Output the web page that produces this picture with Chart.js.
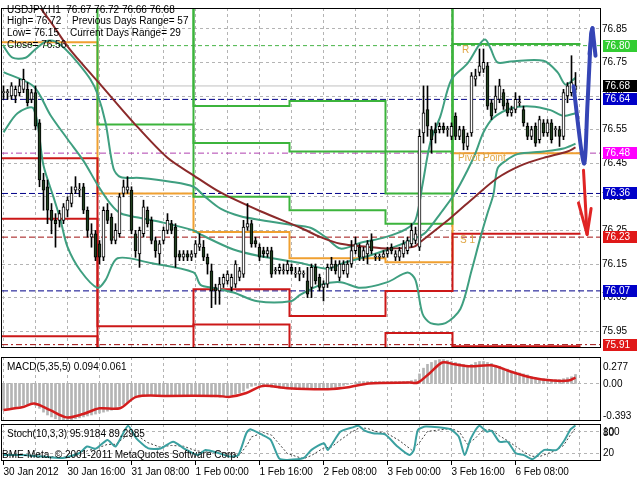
<!DOCTYPE html>
<html>
<head>
<meta charset="utf-8">
<script src="https://cdn.jsdelivr.net/npm/chart.js@4/dist/chart.umd.min.js"></script>
<style>
html,body{margin:0;padding:0;background:#fff;overflow:hidden;}
#wrap{position:relative;width:640px;height:480px;background:#fff;}
#wrap canvas{position:absolute;left:0;}
</style>
</head>
<body>
<div id="wrap">
<canvas id="cMain" width="640" height="356" style="top:0px;width:640px;height:356px"></canvas>
<canvas id="cMacd" width="640" height="66" style="top:356px;width:640px;height:66px"></canvas>
<canvas id="cStoch" width="640" height="57" style="top:423px;width:640px;height:57px"></canvas>
</div>
<script>
// ---------------- DATA ----------------
const timeLabels = ['30 Jan 2012','30 Jan 16:00','31 Jan 08:00','1 Feb 00:00','1 Feb 16:00','2 Feb 08:00','3 Feb 00:00','3 Feb 16:00','6 Feb 08:00'];
const timeLabelBars = [0,16,32,48,64,80,96,112,128];
const gridBars = [0,8,16,24,32,40,48,56,64,72,80,88,96,104,112,120,128,136,144];
const priceTicks = [75.95,76.05,76.15,76.25,76.35,76.45,76.55,76.65,76.75,76.85];

const opens = [76.66,76.66,76.65,76.65,76.66,76.67,76.67,76.64,76.66,76.57,
76.40,76.38,76.31,76.28,76.28,76.28,76.31,76.33,76.37,76.37,
76.38,76.31,76.23,76.24,76.21,76.17,76.31,76.29,76.22,76.24,
76.36,76.37,76.37,76.24,76.18,76.24,76.31,76.28,76.22,76.18,
76.22,76.25,76.27,76.26,76.18,76.17,76.18,76.17,76.18,76.20,
76.20,76.17,76.13,76.08,76.07,76.09,76.10,76.08,76.09,76.11,
76.12,76.26,76.27,76.22,76.20,76.19,76.18,76.19,76.13,76.13,
76.13,76.13,76.14,76.12,76.12,76.12,76.10,76.08,76.14,76.11,
76.08,76.09,76.14,76.15,76.11,76.13,76.12,76.15,76.19,76.20,
76.17,76.18,76.22,76.17,76.17,76.17,76.18,76.20,76.17,76.17,
76.18,76.19,76.21,76.22,76.20,76.54,76.61,76.55,76.55,76.55,
76.56,76.55,76.53,76.59,76.53,76.55,76.50,76.54,76.70,76.72,
76.73,76.74,76.63,76.61,76.64,76.66,76.63,76.60,76.61,76.63,
76.61,76.56,76.53,76.56,76.52,76.57,76.54,76.57,76.55,76.55,
76.53,76.65,76.66,76.67];
const highs = [76.68,76.67,76.69,76.68,76.70,76.73,76.69,76.67,76.68,76.58,
76.42,76.40,76.33,76.30,76.31,76.33,76.35,76.38,76.41,76.39,
76.39,76.32,76.27,76.25,76.22,76.32,76.33,76.30,76.27,76.36,
76.40,76.41,76.38,76.25,76.26,76.34,76.32,76.29,76.23,76.22,
76.26,76.30,76.28,76.27,76.19,76.19,76.19,76.19,76.22,76.24,
76.22,76.18,76.15,76.09,76.11,76.12,76.13,76.12,76.16,76.14,
76.28,76.33,76.28,76.23,76.21,76.20,76.20,76.20,76.14,76.15,
76.15,76.16,76.15,76.14,76.14,76.13,76.14,76.15,76.15,76.12,
76.10,76.15,76.17,76.16,76.16,76.16,76.16,76.22,76.23,76.21,
76.20,76.22,76.24,76.18,76.18,76.19,76.20,76.21,76.19,76.20,
76.22,76.23,76.27,76.26,76.55,76.68,76.68,76.56,76.57,76.57,
76.57,76.56,76.57,76.60,76.56,76.56,76.54,76.72,76.73,76.79,
76.79,76.75,76.64,76.68,76.70,76.67,76.64,76.62,76.66,76.65,
76.62,76.57,76.56,76.57,76.59,76.58,76.58,76.58,76.56,76.56,
76.67,76.69,76.77,76.72];
const lows = [76.64,76.64,76.64,76.63,76.65,76.66,76.62,76.63,76.55,76.38,
76.31,76.27,76.24,76.20,76.26,76.27,76.29,76.32,76.36,76.35,
76.30,76.23,76.20,76.16,76.15,76.16,76.27,76.21,76.21,76.23,
76.35,76.36,76.24,76.17,76.14,76.23,76.26,76.21,76.17,76.15,
76.21,76.24,76.24,76.14,76.16,76.16,76.16,76.16,76.17,76.19,
76.16,76.12,76.02,76.03,76.03,76.08,76.09,76.07,76.08,76.10,
76.11,76.25,76.20,76.20,76.16,76.17,76.17,76.11,76.12,76.12,
76.12,76.12,76.12,76.11,76.10,76.11,76.05,76.05,76.09,76.07,
76.04,76.08,76.13,76.12,76.10,76.12,76.11,76.14,76.18,76.16,
76.16,76.15,76.18,76.16,76.16,76.17,76.17,76.18,76.16,76.16,
76.17,76.18,76.20,76.21,76.19,76.51,76.53,76.48,76.51,76.54,
76.54,76.53,76.52,76.52,76.52,76.49,76.49,76.53,76.68,76.71,
76.72,76.61,76.58,76.60,76.63,76.61,76.59,76.59,76.60,76.62,
76.56,76.52,76.52,76.50,76.51,76.53,76.53,76.51,76.53,76.50,
76.52,76.63,76.65,76.66];
const closes = [76.66,76.66,76.68,76.67,76.68,76.70,76.63,76.66,76.56,76.40,
76.37,76.31,76.28,76.27,76.30,76.32,76.34,76.36,76.38,76.37,
76.31,76.25,76.24,76.17,76.17,76.31,76.28,76.22,76.25,76.35,
76.38,76.38,76.25,76.19,76.25,76.32,76.27,76.22,76.19,76.21,
76.25,76.28,76.25,76.17,76.17,76.18,76.17,76.18,76.21,76.21,
76.17,76.15,76.07,76.07,76.09,76.11,76.12,76.11,76.15,76.13,
76.26,76.27,76.21,76.21,76.17,76.18,76.19,76.12,76.13,76.14,
76.13,76.15,76.13,76.12,76.13,76.12,76.06,76.14,76.10,76.08,
76.09,76.14,76.15,76.13,76.15,76.15,76.15,76.19,76.21,76.17,
76.19,76.21,76.19,76.17,76.17,76.18,76.19,76.19,76.18,76.19,
76.21,76.22,76.25,76.24,76.53,76.60,76.56,76.52,76.54,76.56,
76.55,76.55,76.56,76.53,76.55,76.51,76.53,76.71,76.71,76.74,
76.75,76.62,76.59,76.65,76.68,76.62,76.60,76.61,76.64,76.63,
76.57,76.53,76.55,76.51,76.58,76.54,76.57,76.52,76.55,76.53,
76.66,76.68,76.69,76.68];

// Bollinger bands & slow MA as [bar, price]
const bbUpper = [[0,76.798],[2.25,76.764],[5.5,76.764],[7.5,76.784],[10.5,76.812],[13,76.812],[15.5,76.789],[18.5,76.750],[21.75,76.699],[23.5,76.656],[25.5,76.571],[27.5,76.434],[29.25,76.409],[34.25,76.406],[41.75,76.395],[47.5,76.380],[50.5,76.349],[54.25,76.315],[59.25,76.292],[64.25,76.281],[71.75,76.267],[76.75,76.258],[80.5,76.230],[84.25,76.196],[89.25,76.213],[95.5,76.230],[100.5,76.253],[103,76.281],[104.75,76.386],[106.75,76.514],[109.25,76.591],[112,76.699],[116,76.747],[119,76.804],[120.5,76.818],[121.75,76.792],[123.5,76.750],[126.75,76.753],[135,76.755],[138.5,76.721],[140.5,76.684],[143,76.704]];
const bbMiddle = [[0,76.721],[7.5,76.679],[11.75,76.593],[16,76.522],[20,76.457],[23.5,76.386],[26.75,76.329],[29.25,76.301],[34.25,76.287],[39.25,76.275],[47.5,76.250],[49.25,76.238],[57.5,76.193],[64.25,76.173],[74.25,76.153],[81,76.136],[85,76.153],[91,76.173],[96,76.193],[102.5,76.224],[105.5,76.244],[109.25,76.301],[113,76.363],[116,76.429],[118,76.480],[120,76.542],[122.5,76.585],[126.75,76.613],[131.75,76.619],[136.75,76.608],[140,76.591],[143,76.599]];
const bbLower = [[0,76.542],[3.5,76.599],[7.5,76.613],[10,76.443],[12.5,76.349],[14.25,76.281],[16,76.201],[19.25,76.130],[23.5,76.079],[25.5,76.102],[28.5,76.167],[36.75,76.153],[47.5,76.125],[49.25,76.088],[52.5,76.079],[57.5,76.065],[63.5,76.039],[71.75,76.039],[74.25,76.059],[79.25,76.088],[84.25,76.096],[89.25,76.079],[96,76.096],[101,76.125],[103,76.102],[104.75,76.002],[106.75,75.974],[110.5,75.974],[114.25,76.017],[117,76.130],[119.25,76.230],[121,76.301],[122.5,76.358],[123.5,76.434],[125.5,76.457],[128.5,76.477],[135,76.485],[140,76.494],[143,76.508]];
const maSlow = [[6.75,76.954],[9.25,76.912],[12.25,76.863],[16,76.798],[20,76.741],[24.25,76.684],[32.5,76.571],[41,76.466],[47.5,76.414],[54.25,76.363],[64.25,76.307],[74.25,76.258],[79.25,76.230],[84.25,76.210],[91,76.201],[96,76.196],[102.5,76.201],[104.25,76.216],[111.75,76.287],[118,76.352],[123.5,76.406],[129.25,76.443],[135,76.466],[141,76.485],[143,76.497]];

// Daily pivot levels (one value per day segment)
const daySegStart = [-0.375,23.5,47.5,71.5,95.5,112.25];
const daySegEnd = 144.25;
const pivotR3 = [77.40,77.20,76.62,76.635,76.485,77.30];
const pivotR2 = [77.20,77.00,76.51,76.485,76.36,77.10];
const pivotR1 = [77.00,76.565,76.35,76.31,76.27,76.805];
const pivotP  = [76.81,76.36,76.245,76.167,76.155,76.48];
const pivotS1 = [76.465,75.965,76.075,75.995,76.07,76.24];
const pivotS2 = [76.285,75.70,75.97,75.70,75.945,75.905];
const pivotS3 = [75.935,75.50,75.50,75.50,75.70,75.70];

// Horizontal price levels with right-hand labels
const levelValues = [76.80,76.68,76.64,76.48,76.36,76.23,76.07,75.91];

// Forecast arrows [bar, price]
const arrowUp = [[142.5,76.679],[145.1,76.449],[146.0,76.627],[146.9,76.835],[147.25,76.852]];
const arrowUpHead = [[146.5,76.775],[147.25,76.852],[148.0,76.770]];
const arrowDown = [[145.0,76.429],[145.9,76.238]];
const arrowDownHead = [[143.75,76.332],[145.9,76.238],[146.9,76.315]];

// MACD(5,35,5)
const macdMain = [-0.28,-0.27,-0.26,-0.25,-0.24,-0.23,-0.22,-0.22,-0.23,-0.26,
-0.30,-0.33,-0.35,-0.37,-0.38,-0.39,-0.39,-0.38,-0.37,-0.36,
-0.35,-0.34,-0.33,-0.32,-0.31,-0.30,-0.29,-0.28,-0.26,-0.24,
-0.22,-0.20,-0.17,-0.15,-0.14,-0.13,-0.12,-0.12,-0.12,-0.12,
-0.12,-0.12,-0.12,-0.12,-0.12,-0.12,-0.12,-0.12,-0.12,-0.13,
-0.13,-0.13,-0.14,-0.14,-0.14,-0.14,-0.13,-0.12,-0.11,-0.10,
-0.08,-0.05,-0.03,-0.02,-0.02,-0.03,-0.03,-0.04,-0.04,-0.05,
-0.05,-0.05,-0.05,-0.05,-0.05,-0.06,-0.06,-0.06,-0.06,-0.06,
-0.06,-0.05,-0.05,-0.04,-0.03,-0.02,-0.01,0.00,0.01,0.02,
0.02,0.02,0.02,0.02,0.02,0.02,0.02,0.02,0.02,0.02,
0.02,0.02,0.03,0.04,0.10,0.16,0.20,0.22,0.24,0.25,
0.25,0.24,0.23,0.22,0.21,0.20,0.19,0.20,0.22,0.23,
0.23,0.22,0.21,0.19,0.18,0.16,0.15,0.13,0.12,0.11,
0.10,0.09,0.07,0.06,0.05,0.05,0.04,0.04,0.04,0.04,
0.05,0.06,0.07,0.094];
const macdSignal = [[0,-0.277],[4.6,-0.25],[7.7,-0.21],[11.7,-0.28],[15.8,-0.355],[19.9,-0.32],[24,-0.26],[29.1,-0.26],[33.2,-0.14],[40.3,-0.13],[53.6,-0.13],[56.6,-0.14],[60.7,-0.10],[64.8,-0.026],[70.9,-0.05],[81.1,-0.06],[86.2,-0.04],[91.3,0.0],[101.5,0.01],[103.6,0.01],[106.6,0.11],[109.7,0.22],[112.8,0.20],[116.8,0.18],[122,0.19],[127.1,0.12],[132.2,0.06],[137.3,0.03],[141.3,0.03],[143,0.061]];
const macdTicks = [0.277,0,-0.393];
const macdTickText = ['0.277','0.00','-0.393'];

// Stochastic(10,3,3)
const stochMain = [[0,16],[4.6,16],[9.7,12],[14.8,8],[18.9,21],[20.9,39],[23,33],[26,57],[28,39],[31.1,95],[33.2,61],[36.2,34],[39.3,34],[42.4,52],[45.4,32],[48.5,16],[50.5,30],[53.6,22],[56.6,12],[58.7,16],[60.7,75],[61.7,86],[64.8,70],[66.8,57],[68.9,7],[70.9,3],[75,8],[77,30],[80.1,48],[81.1,30],[84.2,79],[87.3,91],[88.8,95],[90.3,82],[92.4,75],[95.4,72],[98.5,39],[101.5,16],[102.6,30],[103.6,84],[105.6,93],[111.7,86],[113.8,66],[115.3,16],[116.8,60],[118.9,95],[120.9,79],[122,82],[124,52],[126,52],[128.1,21],[130.1,16],[132.2,5],[133.2,12],[135.2,30],[138.3,30],[140.3,57],[141.8,86],[143,96]];
const stochSignal = [[0,15],[5,15],[10,13],[15,10],[19,15],[21,28],[23,33],[26,45],[28,45],[31,70],[33,72],[36,50],[39,38],[42,42],[45,40],[48,28],[51,24],[54,24],[57,18],[59,16],[61,45],[62,65],[65,77],[67,70],[69,45],[71,20],[75,6],[77,15],[80,35],[82,38],[84,55],[87,78],[89,90],[91,88],[93,80],[96,74],[99,55],[102,30],[104,50],[106,80],[112,88],[114,78],[116,45],[118,62],[120,85],[122,84],[124,68],[126,55],[128,40],[130,25],[132,13],[134,12],[136,20],[138,28],[140,42],[142,75],[143,89]];
const stochTicks = [100,80,20];

// ---------------- STYLE / LAYOUT ----------------
const FONT = '"Liberation Sans", Arial, sans-serif';
Chart.defaults.font.family = FONT;
const XMIN = -0.375, XMAX = 149.125;
const levelLineColor = ['#46b446','#c0c0c0','#000088','#b040b0','#000088','#a01010','#000088','#a01010'];
const levelDash = [[4,3],[],[6,3],[6,3,2,3],[6,3],[6,3],[6,3],[6,3,2,3]];
const levelBoxColor = ['#32cd32','#000000','#0000c8','#ff00ff','#0000c8','#e01818','#0000c8','#e01818'];
const GREEN = '#3cb43c', ORANGE = '#f0a030', RED = '#cc1818', TEAL = '#3f9f80', BROWN = '#8b2a2a';

const toXY = arr => arr.map(p => ({x: p[0], y: p[1]}));
function stepData(vals){ const d = daySegStart.map((s,i)=>({x:s, y:vals[i]})); d.push({x:daySegEnd, y:vals[vals.length-1]}); return d; }

// ---------------- PLUGINS ----------------
const gridPlugin = {
  id: 'mtgrid',
  beforeDatasetsDraw(chart, args, opts){
    const {ctx, chartArea:a, scales} = chart;
    ctx.save();
    ctx.beginPath(); ctx.rect(a.left, a.top, a.right-a.left, a.bottom-a.top); ctx.clip();
    ctx.strokeStyle = '#b4b4b4'; ctx.lineWidth = 1; ctx.setLineDash([3,3]);
    (opts.xs||[]).forEach(v => { const px = Math.floor(scales.x.getPixelForValue(v)) + 0.5; ctx.beginPath(); ctx.moveTo(px, a.top); ctx.lineTo(px, a.bottom); ctx.stroke(); });
    (opts.ys||[]).forEach(v => { const py = Math.floor(scales.y.getPixelForValue(v)) + 0.5; ctx.beginPath(); ctx.moveTo(a.left, py); ctx.lineTo(a.right, py); ctx.stroke(); });
    ctx.restore();
  }
};
const framePlugin = {
  id: 'mtframe',
  afterDraw(chart){
    const {ctx, chartArea:a} = chart;
    ctx.save(); ctx.strokeStyle = '#000'; ctx.lineWidth = 1; ctx.setLineDash([]);
    ctx.strokeRect(a.left-0.5, a.top+0.5, a.right-a.left+1, a.bottom-a.top-1);
    ctx.restore();
  }
};
const textPlugin = {
  id: 'mttext',
  afterDraw(chart, args, opts){
    const {ctx, chartArea:a, scales} = chart;
    ctx.save(); ctx.textBaseline = 'middle'; ctx.textAlign = 'left';
    (opts.lines||[]).forEach(t => { ctx.font = (t.size||10)+'px '+FONT; ctx.fillStyle = t.color||'#000'; ctx.fillText(t.t, t.x, t.y); });
    (opts.anchored||[]).forEach(t => {
      ctx.font = '10px '+FONT; ctx.fillStyle = t.color||'#000';
      ctx.fillText(t.t, scales.x.getPixelForValue(t.at[0]) + t.dx, scales.y.getPixelForValue(t.at[1]) + t.dy);
    });
    (opts.axis||[]).forEach(t => {
      ctx.font = '10px '+FONT; ctx.fillStyle = '#000';
      ctx.fillText(t.t, a.right+3, scales.y.getPixelForValue(t.v) + (t.dy||0));
    });
    (opts.boxes||[]).forEach(b => {
      const y = Math.round(scales.y.getPixelForValue(b.v));
      ctx.fillStyle = b.bg; ctx.fillRect(a.right+3, y-6, 34, 12);
      ctx.font = '10px '+FONT; ctx.fillStyle = '#fff'; ctx.fillText(b.v.toFixed(2), a.right+5, y+0.5);
    });
    ctx.restore();
  }
};
Chart.register(gridPlugin, framePlugin, textPlugin);

const common = { responsive:false, animation:false, devicePixelRatio:1, events:[] };
const xHidden = {type:'linear', min:XMIN, max:XMAX, display:false, offset:false, bounds:'ticks', grid:{offset:false}};

// ---------------- MAIN PRICE CHART ----------------
const mainSets = [];
levelValues.forEach((v,i) => mainSets.push({type:'line', data:[{x:XMIN,y:v},{x:XMAX,y:v}], borderColor:levelLineColor[i], borderDash:levelDash[i], borderWidth:1, pointRadius:0, order:40}));
[[pivotR3,GREEN],[pivotR2,GREEN],[pivotR1,GREEN],[pivotS3,RED],[pivotS2,RED],[pivotS1,RED],[pivotP,ORANGE]].forEach(([vals,c]) =>
  mainSets.push({type:'line', data:stepData(vals), stepped:true, borderColor:c, borderWidth:2, pointRadius:0, order:30}));
[bbUpper,bbMiddle,bbLower].forEach(b => mainSets.push({type:'line', data:toXY(b), borderColor:TEAL, borderWidth:2, pointRadius:0, tension:0.3, order:20}));
mainSets.push({type:'line', data:toXY(maSlow), borderColor:BROWN, borderWidth:2, pointRadius:0, tension:0.3, order:19});
mainSets.push({type:'bar', data:lows.map((l,i)=>({x:i, y:[l, highs[i]]})), backgroundColor:'#000', borderWidth:0, barThickness:1, grouped:false, order:6});
mainSets.push({type:'bar', data:opens.map((o,i)=>({x:i, y:[o, closes[i]]})),
  backgroundColor:opens.map((o,i)=> closes[i] >= o ? '#ffffff' : '#21401f'),
  borderColor:'#000', borderWidth:1, borderSkipped:false, barThickness:3, minBarLength:1, grouped:false, order:5});
mainSets.push({type:'line', data:toXY(arrowUp), borderColor:'#3545b5', borderWidth:4, pointRadius:0, tension:0.3, borderCapStyle:'round', borderJoinStyle:'round', order:2});
mainSets.push({type:'line', data:toXY(arrowUpHead), borderColor:'#3545b5', borderWidth:4, pointRadius:0, borderCapStyle:'round', borderJoinStyle:'round', order:2});
mainSets.push({type:'line', data:toXY(arrowDown), borderColor:'#e02424', borderWidth:3, pointRadius:0, borderCapStyle:'round', order:1});
mainSets.push({type:'line', data:toXY(arrowDownHead), borderColor:'#e02424', borderWidth:3, pointRadius:0, borderCapStyle:'round', borderJoinStyle:'round', order:1});

new Chart(document.getElementById('cMain'), {
  type:'bar',
  data:{datasets:mainSets},
  options:Object.assign({}, common, {
    layout:{padding:{left:2,right:0,top:0,bottom:0}},
    scales:{
      x:xHidden,
      y:{type:'linear', position:'right', min:75.90, max:76.912,
         afterBuildTicks:s=>{ s.ticks = priceTicks.map(v=>({value:v})); },
         afterFit:s=>{ s.width = 40; },
         grid:{display:false, drawTicks:false}, border:{display:false},
         ticks:{color:'#000', font:{size:10}, padding:2, callback:v=>Number(v).toFixed(2)}}
    },
    plugins:{
      legend:{display:false}, tooltip:{enabled:false},
      mtgrid:{xs:gridBars, ys:priceTicks},
      mttext:{
        lines:[
          {t:'USDJPY,H1  76.67 76.72 76.66 76.68', x:7, y:10},
          {t:'High= 76.72', x:7, y:21.5}, {t:'Previous Days Range= 57', x:72, y:21.5},
          {t:'Low= 76.15', x:7, y:33}, {t:'Current Days Range= 29', x:70, y:33},
          {t:'Close= 76.56', x:7, y:45}
        ],
        anchored:[
          {t:'R', at:[daySegStart[5], pivotR1[5]], dx:9.5, dy:6, color:'#e0a848'},
          {t:'Pivot Point', at:[daySegStart[5], pivotP[5]], dx:5.5, dy:5.5, color:'#e0a848'},
          {t:'S 1', at:[daySegStart[5], pivotS1[5]], dx:7.5, dy:6.5, color:'#e0a848'}
        ],
        boxes:levelValues.map((v,i)=>({v:v, bg:levelBoxColor[i]}))
      }
    }
  })
});

// ---------------- MACD ----------------
new Chart(document.getElementById('cMacd'), {
  type:'bar',
  data:{datasets:[
    {type:'bar', data:macdMain.map((v,i)=>({x:i, y:v})), backgroundColor:'#b4b4b4', barThickness:2, grouped:false, order:2},
    {type:'line', data:toXY(macdSignal), borderColor:'#d41e1e', borderWidth:2.5, pointRadius:0, tension:0.3, order:1}
  ]},
  options:Object.assign({}, common, {
    layout:{padding:{left:2,right:40,top:1,bottom:1}},
    scales:{
      x:xHidden,
      y:{type:'linear', min:-0.393, max:0.277, display:false}
    },
    plugins:{
      legend:{display:false}, tooltip:{enabled:false},
      mtgrid:{xs:gridBars, ys:[0]},
      mttext:{
        lines:[{t:'MACD(5,35,5) 0.094 0.061', x:7, y:11}],
        axis:[{t:macdTickText[0], v:macdTicks[0], dy:10.5},{t:macdTickText[1], v:macdTicks[1], dy:0.5},{t:macdTickText[2], v:macdTicks[2], dy:-5}]
      }
    }
  })
});

// ---------------- STOCHASTIC ----------------
new Chart(document.getElementById('cStoch'), {
  type:'line',
  data:{datasets:[
    {data:toXY(stochSignal), borderColor:'#404040', borderWidth:1, borderDash:[2,2], pointRadius:0, order:2},
    {data:toXY(stochMain), borderColor:'#3aa0a0', borderWidth:2, pointRadius:0, tension:0.2, order:1}
  ]},
  options:Object.assign({}, common, {
    layout:{padding:{left:2,right:40,top:1,bottom:0}},
    scales:{
      x:{type:'linear', min:XMIN, max:XMAX, position:'bottom', offset:false,
         afterBuildTicks:s=>{ s.ticks = timeLabelBars.map(v=>({value:v})); },
         afterFit:s=>{ s.height = 19; },
         grid:{display:true, drawOnChartArea:false, drawTicks:true, tickLength:4, color:'#000', offset:false},
         border:{display:false},
         ticks:{align:'start', autoSkip:false, maxRotation:0, minRotation:0, padding:1, color:'#000', font:{size:10},
                callback:v=>{ const k = timeLabelBars.indexOf(v); return k >= 0 ? timeLabels[k] : ''; }}},
      y:{type:'linear', min:0, max:100, display:false}
    },
    plugins:{
      legend:{display:false}, tooltip:{enabled:false},
      mtgrid:{xs:gridBars, ys:[80,20]},
      mttext:{
        lines:[{t:'Stoch(10,3,3) 95.9184 89.2985', x:7, y:11},
               {t:'BME-Meta, \u00a9 2001-2011 MetaQuotes Software Corp.', x:2, y:32}],
        axis:[{t:'100', v:stochTicks[0], dy:8.5},{t:'80', v:stochTicks[1], dy:1.5},{t:'20', v:stochTicks[2], dy:0}]
      }
    }
  })
});
</script>
</body>
</html>
